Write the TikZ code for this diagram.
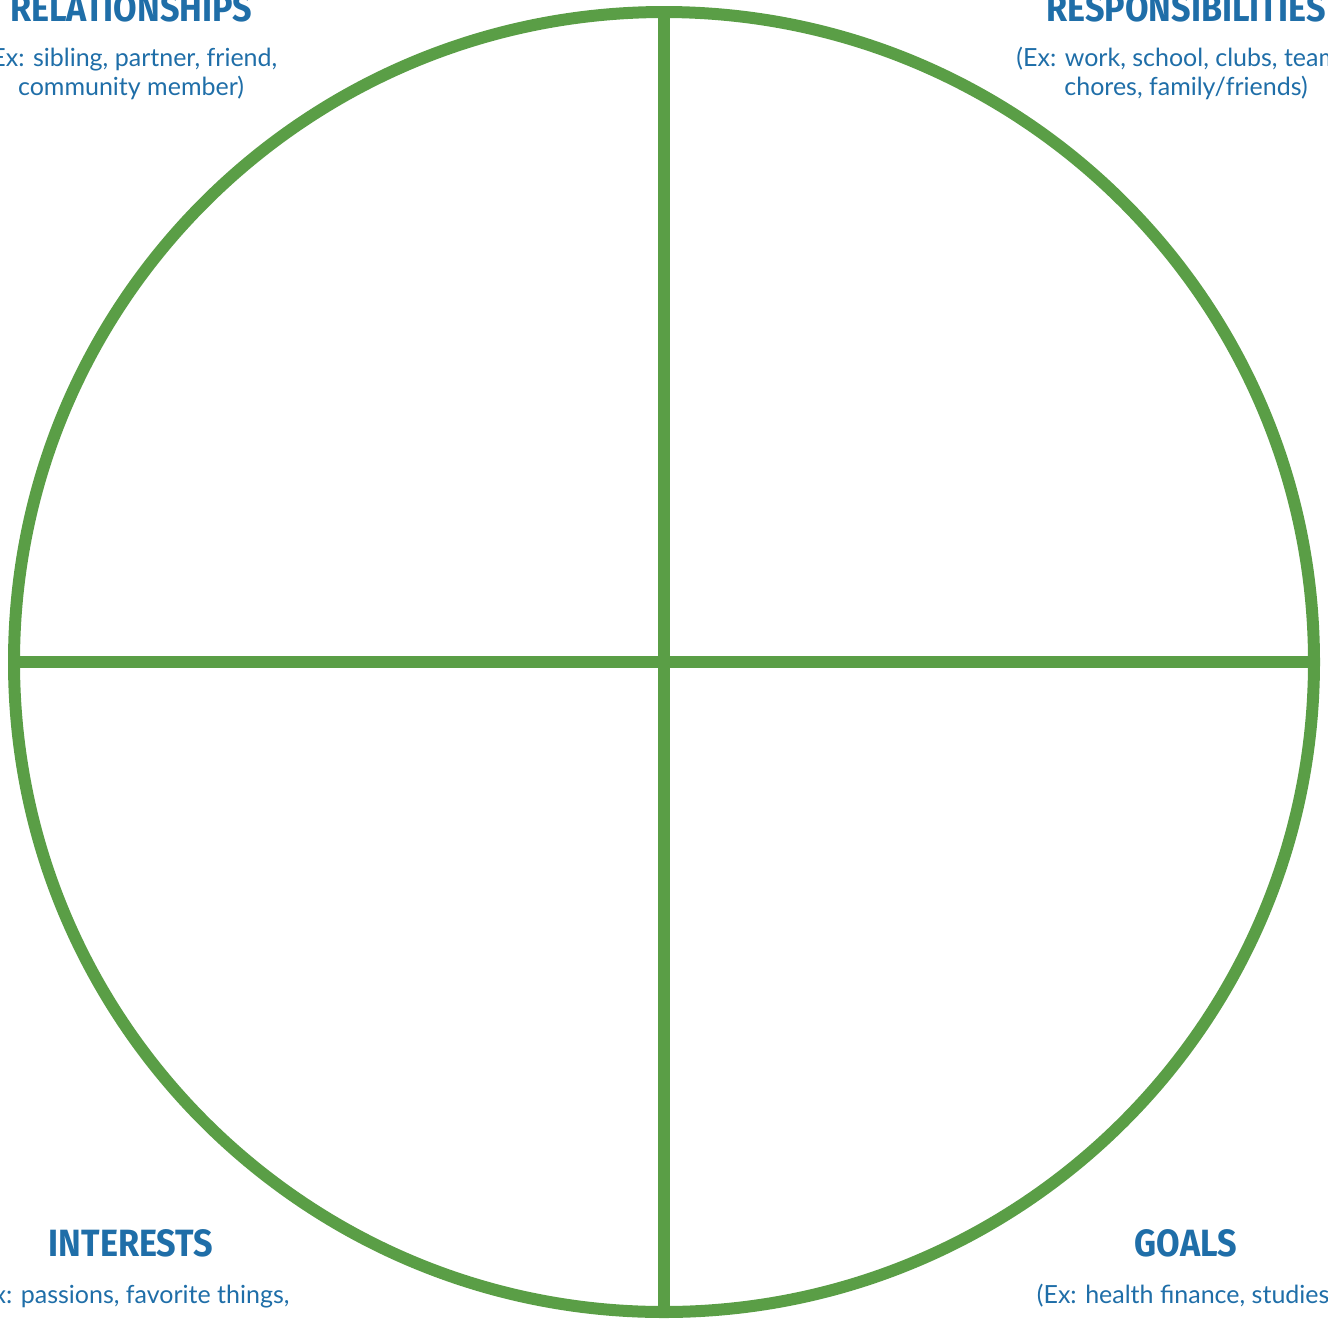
\documentclass[tikz,border=0pt]{standalone}
\usepackage{fontspec}
\setmainfont{Lato}
\newfontfamily\headfont{Fira Sans}[FakeStretch=0.9]
\usepackage{xcolor}
\definecolor{wheelgreen}{HTML}{5A9E46}
\definecolor{labelblue}{HTML}{1F6EA8}
\usepackage{tikz}

\begin{document}
\begin{tikzpicture}[x=1pt,y=-1pt,
        ring/.style={draw=wheelgreen,line width=12pt},
        head/.style={text=labelblue,font=\headfont\bfseries\fontsize{38}{40}\selectfont},
        note/.style={text=labelblue,align=center,font=\fontsize{25}{29}\selectfont}]
        \useasboundingbox (0,0) rectangle (1328,1318);
        \node[ring,circle,minimum size=1300pt,inner sep=0pt] (wheel) at (664,662) {};
        \draw[ring] (wheel.north) -- (wheel.south);
        \draw[ring] (wheel.west) -- (wheel.east);
        \node[head] (rel) at (131,8) {RELATIONSHIPS};
        \node[note] (relnote) at (131,73) {(Ex: sibling, partner, friend,\\community member)};
        \node[head] (resp) at (1186,8) {RESPONSIBILITIES};
        \node[note] (respnote) at (1186,73) {(Ex: work, school, clubs, teams,\\chores, family/friends)};
        \node[head] (int) at (131,1243) {INTERESTS};
        \node[note] (intnote) at (131,1296) {(Ex: passions, favorite things,};
        \node[head] (goal) at (1186,1243) {GOALS};
        \node[note] (goalnote) at (1186,1296) {(Ex: health finance, studies,};
\end{tikzpicture}
\end{document}
